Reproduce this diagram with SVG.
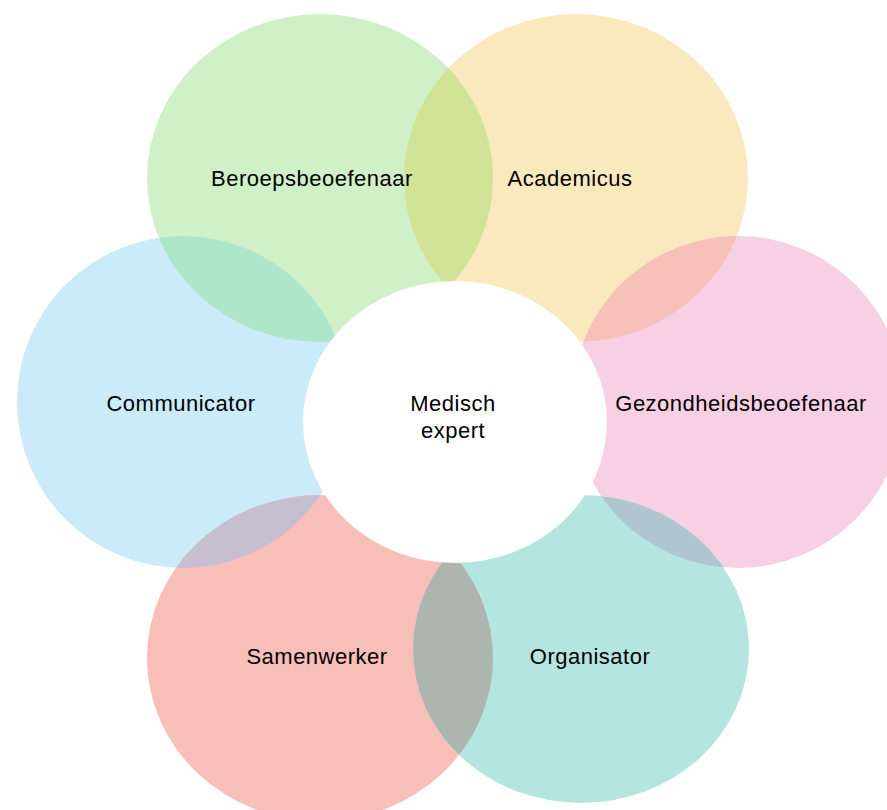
<svg xmlns="http://www.w3.org/2000/svg" width="887" height="810" viewBox="0 0 887 810">
<style>
text{font-family:"Liberation Sans",Arial,sans-serif;font-size:22px;letter-spacing:0.5px;fill:#000;text-anchor:middle}
</style>
<defs>
<ellipse id="eG" cx="320" cy="178" rx="173" ry="164"/>
<ellipse id="eY" cx="576" cy="178" rx="172" ry="164"/>
<ellipse id="eB" cx="183" cy="402" rx="166" ry="166"/>
<ellipse id="eP" cx="738" cy="402" rx="166" ry="166"/>
<ellipse id="eR" cx="320" cy="658" rx="173" ry="163"/>
<ellipse id="eT" cx="581" cy="649" rx="168" ry="154"/>
<clipPath id="cG"><use href="#eG"/></clipPath>
<clipPath id="cY"><use href="#eY"/></clipPath>
<clipPath id="cB"><use href="#eB"/></clipPath>
<clipPath id="cP"><use href="#eP"/></clipPath>
<clipPath id="cR"><use href="#eR"/></clipPath>
</defs>
<rect width="887" height="810" fill="#fff"/>
<g id="academicus"><use href="#eY" fill="#fbe9be"/><text x="570" y="186">Academicus</text></g>
<g id="beroepsbeoefenaar"><use href="#eG" fill="#d0f0c8"/><g clip-path="url(#cY)"><use href="#eG" fill="#d0e396"/></g><text x="312" y="186">Beroepsbeoefenaar</text></g>
<g id="communicator"><use href="#eB" fill="#cbeafa"/><g clip-path="url(#cG)"><use href="#eB" fill="#ade6c8"/></g><text x="181" y="411">Communicator</text></g>
<g id="gezondheidsbeoefenaar"><use href="#eP" fill="#f7d0e4"/><g clip-path="url(#cY)"><use href="#eP" fill="#f7c0b8"/></g><text x="741" y="411">Gezondheidsbeoefenaar</text></g>
<g id="samenwerker"><use href="#eR" fill="#f8beb8"/><g clip-path="url(#cB)"><use href="#eR" fill="#c5bfd0"/></g><text x="317" y="664">Samenwerker</text></g>
<g id="organisator"><use href="#eT" fill="#b5e5e0"/><g clip-path="url(#cP)"><use href="#eT" fill="#afc6d0"/></g><g clip-path="url(#cR)"><use href="#eT" fill="#adb5af"/></g><text x="590" y="664">Organisator</text></g>
<g id="medisch-expert"><ellipse cx="455" cy="422" rx="152" ry="141" fill="#fff"/><text x="453" y="411">Medisch</text><text x="453" y="438">expert</text></g>
<g id="connectors"/>
</svg>
